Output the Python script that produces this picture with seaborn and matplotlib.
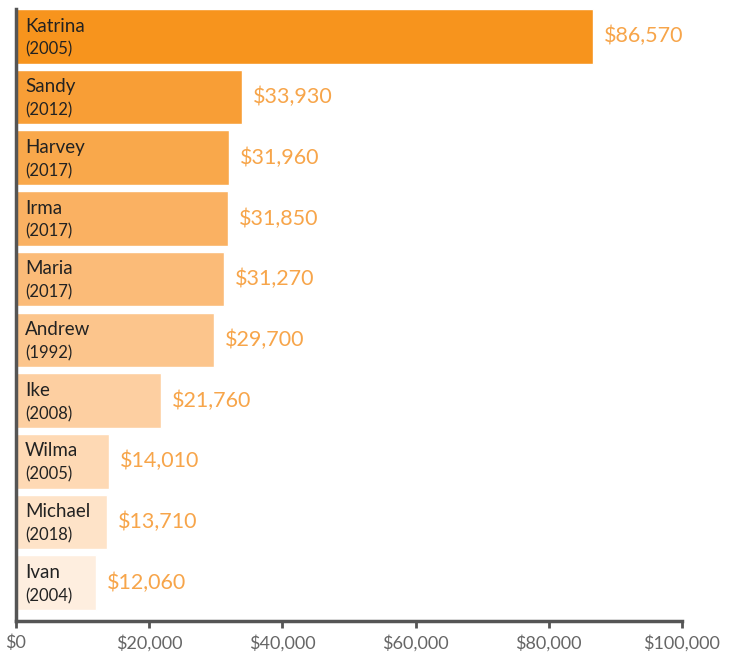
import matplotlib
matplotlib.use("Agg")
import matplotlib.pyplot as plt
import seaborn as sns
import pandas as pd
from matplotlib.ticker import FuncFormatter

names = ["Katrina", "Sandy", "Harvey", "Irma", "Maria", "Andrew", "Ike", "Wilma", "Michael", "Ivan"]
years = ["2005", "2012", "2017", "2017", "2017", "1992", "2008", "2005", "2018", "2004"]
costs = [86570, 33930, 31960, 31850, 31270, 29700, 21760, 14010, 13710, 12060]
ticks = [0, 20000, 40000, 60000, 80000, 100000]

colors = ["#F7941D", "#F89E36", "#F9A84B", "#FAB162", "#FBBB78", "#FCC58C",
          "#FDCFA1", "#FED9B4", "#FEE3C8", "#FEEEDF"]

sns.set_theme(style="white")
plt.rcParams["font.family"] = ["Lato", "DejaVu Sans"]

df = pd.DataFrame({"name": names, "year": years, "cost": costs})

fig = plt.figure(figsize=(7.34, 6.53), dpi=100)
ax = fig.add_axes([16 / 734, 1 - 621 / 653, (682 - 16) / 734, 612 / 653])

sns.barplot(data=df, x="cost", y="name", hue="name", palette=colors, legend=False,
            orient="h", width=0.9, ax=ax, saturation=1)

for i, (n, yr, c) in enumerate(zip(names, years, costs)):
    ax.text(1350, i - 0.17, n, ha="left", va="center", fontsize=13.5, color="#222222")
    ax.text(1350, i + 0.22, f"({yr})", ha="left", va="center", fontsize=12, color="#222222")
    ax.text(c + 1650, i, f"${c:,}", ha="left", va="center", fontsize=15.5, color="#F7A54A")

ax.set_xlim(0, 100000)
ax.set_ylim(9.63, -0.45)
ax.set_xticks(ticks)
ax.xaxis.set_major_formatter(FuncFormatter(lambda v, p: f"${int(v):,}"))
ax.set_yticks([])
ax.set_xlabel("")
ax.set_ylabel("")
for s in ["top", "right"]:
    ax.spines[s].set_visible(False)
for s in ["left", "bottom"]:
    ax.spines[s].set_color("#555555")
    ax.spines[s].set_linewidth(2.5)
ax.tick_params(axis="x", bottom=True, length=5, width=2, color="#555555",
               labelsize=13, labelcolor="#666666", pad=5)

fig.savefig("out.png", dpi=100)
